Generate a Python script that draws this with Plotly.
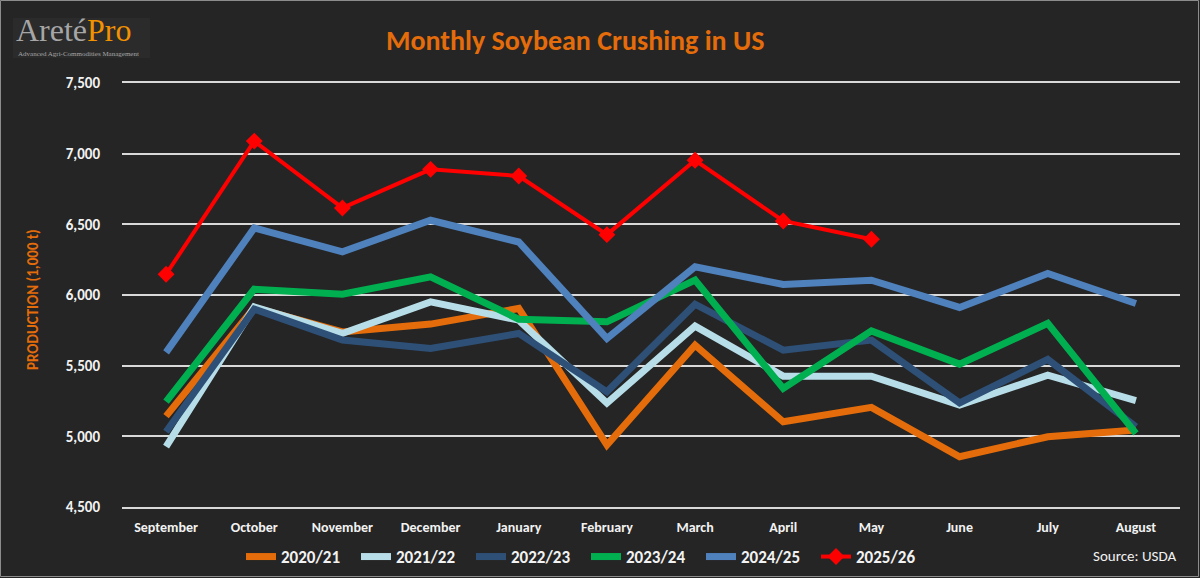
import plotly.graph_objects as go

months = ["September", "October", "November", "December", "January", "February",
          "March", "April", "May", "June", "July", "August"]

s2020_21 = [5143, 5910, 5739, 5794, 5905, 4939, 5645, 5103, 5205, 4856, 4997, 5045]
s2021_22 = [4927, 5916, 5728, 5951, 5822, 5235, 5780, 5426, 5426, 5221, 5433, 5252]
s2022_23 = [5033, 5900, 5681, 5622, 5728, 5315, 5935, 5610, 5681, 5237, 5544, 5068]
s2023_24 = [5245, 6041, 6006, 6128, 5829, 5810, 6105, 5339, 5746, 5511, 5799, 5021]
s2024_25 = [5594, 6474, 6305, 6529, 6375, 5693, 6199, 6074, 6105, 5912, 6152, 5940]
s2025_26 = [6147, 7089, 6616, 6889, 6842, 6427, 6953, 6524, 6394]

series = [
    ("2020/21", s2020_21, "#E46C0A"),
    ("2021/22", s2021_22, "#B7DEE8"),
    ("2022/23", s2022_23, "#2E5077"),
    ("2023/24", s2023_24, "#00B050"),
    ("2024/25", s2024_25, "#4F81BD"),
]

yticks = [4500, 5000, 5500, 6000, 6500, 7000, 7500]

W, H = 1200, 578
ML, MR, MT, MB = 122, 20, 83, 71
PW, PH = W - ML - MR, H - MT - MB

def px(x):
    return (x - ML) / PW

def py(y):
    return (H - MB - y) / PH

FONT = "Carlito, Lato, sans-serif"
BG = "#252525"

fig = go.Figure()
for name, vals, col in series:
    fig.add_trace(go.Scatter(
        x=months[:len(vals)], y=vals, name=name, mode="lines",
        line=dict(color=col, width=7, shape="linear"),
    ))
fig.add_trace(go.Scatter(
    x=months[:len(s2025_26)], y=s2025_26, name="2025/26", mode="lines+markers",
    line=dict(color="#FF0000", width=4),
    marker=dict(symbol="diamond", size=13, color="#FF0000"),
))

fig.update_layout(
    width=W, height=H,
    margin=dict(l=ML, r=MR, t=MT, b=MB, autoexpand=False),
    paper_bgcolor=BG, plot_bgcolor=BG,
    font=dict(family=FONT, color="#F2F2F2"),
    showlegend=True,
    legend=dict(
        orientation="h", x=px(241), xanchor="left", y=py(557), yanchor="middle",
        font=dict(size=17, color="#F2F2F2", family=FONT, weight="bold"),
        bgcolor="rgba(0,0,0,0)", entrywidth=70, entrywidthmode="pixels",
        itemwidth=30, tracegroupgap=0,
    ),
    xaxis=dict(
        type="category", categoryorder="array", categoryarray=months,
        range=[-0.5, 11.5], showgrid=False, zeroline=False,
        showline=True, mirror=True, linecolor="#D9D9D9", linewidth=2,
        ticks="", tickfont=dict(size=14, color="#F2F2F2", family=FONT, weight="bold"),
        ticklabelstandoff=6,
    ),
    yaxis=dict(
        range=[4500, 7500], tickvals=yticks, tickformat=",",
        showgrid=True, gridcolor="#D9D9D9", gridwidth=2, zeroline=False,
        showline=False, ticks="",
        tickfont=dict(size=15, color="#F2F2F2", family=FONT, weight="bold"),
        ticklabelstandoff=21,
    ),
)

# Title
fig.add_annotation(
    text="Monthly Soybean Crushing in US", xref="paper", yref="paper",
    x=px(575), y=py(41), xanchor="center", yanchor="middle", showarrow=False,
    font=dict(size=28, color="#E46C0A", family=FONT, weight="bold"),
)
# Y axis title
fig.add_annotation(
    text="PRODUCTION (1,000 t)", xref="paper", yref="paper",
    x=px(33), y=py(300), xanchor="center", yanchor="middle", showarrow=False,
    textangle=-90, font=dict(size=15, color="#E46C0A", family=FONT, weight="bold"),
)
# Source
fig.add_annotation(
    text="Source: USDA", xref="paper", yref="paper",
    x=px(1178), y=py(556), xanchor="right", yanchor="middle", showarrow=False,
    font=dict(size=15, color="#F2F2F2", family=FONT),
)

# Logo
fig.add_shape(type="rect", xref="paper", yref="paper",
              x0=px(13), x1=px(150), y0=py(58), y1=py(18),
              fillcolor="#2B2B2B", line=dict(width=0), layer="below")
fig.add_annotation(
    text="<span style='color:#A6A6A6'>Areté</span><span style='color:#F39200'>Pro</span>",
    xref="paper", yref="paper", x=px(15), y=py(49), xanchor="left", yanchor="bottom",
    showarrow=False, font=dict(size=32, family="Liberation Serif, serif"),
    borderpad=0,
)
fig.add_annotation(
    text="Advanced Agri-Commodities Management",
    xref="paper", yref="paper", x=px(17), y=py(49.5), xanchor="left", yanchor="top",
    showarrow=False, font=dict(size=7, color="#A6A6A6", family="Liberation Serif, serif"),
    borderpad=0,
)

# Outer border
fig.add_shape(type="rect", xref="paper", yref="paper",
              x0=px(0.5), x1=px(W - 1.5), y0=py(H - 1.5), y1=py(0.5),
              line=dict(color="#8C8C8C", width=1), fillcolor="rgba(0,0,0,0)")

fig.write_html("out.html")
